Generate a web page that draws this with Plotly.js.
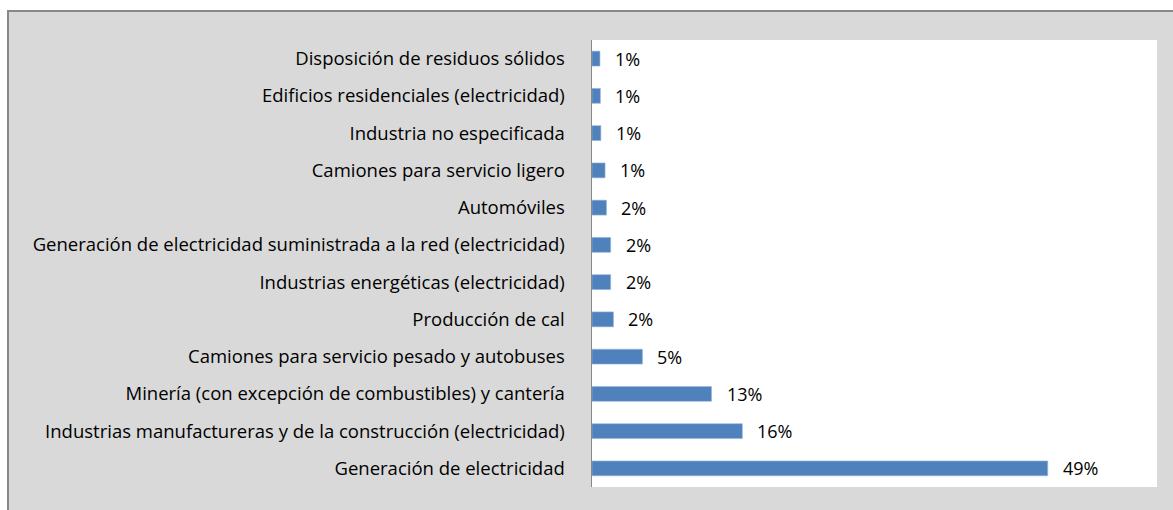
<!DOCTYPE html>
<html>
<head>
<meta charset="utf-8">
<script src="https://cdn.plot.ly/plotly-3.0.1.min.js"></script>
<style>
  html, body { margin: 0; padding: 0; background: #fff; }
  #box {
    position: absolute; left: 7px; top: 10px; width: 1180px; height: 520px;
    background: #d9d9d9; border-left: 2px solid #888; border-top: 2px solid #888;
  }
  #plot { position: absolute; left: 0; top: 0; width: 1173px; height: 510px; }
</style>
</head>
<body>
<div id="box"></div>
<div id="plot"></div>
<script>
// categories, bottom to top
var sources = [
  "Generación de electricidad",
  "Industrias manufactureras y de la construcción (electricidad)",
  "Minería (con excepción de combustibles) y cantería",
  "Camiones para servicio pesado y autobuses",
  "Producción de cal",
  "Industrias energéticas (electricidad)",
  "Generación de electricidad suministrada a la red (electricidad)",
  "Automóviles",
  "Camiones para servicio ligero",
  "Industria no especificada",
  "Edificios residenciales (electricidad)",
  "Disposición de residuos sólidos"
];
// share of emissions, %
var shares = [48.8, 16.1, 12.8, 5.4, 2.3, 2.0, 2.0, 1.55, 1.4, 0.95, 0.9, 0.85];
var shareLabels = ["49%", "16%", "13%", "5%", "2%", "2%", "2%", "2%", "1%", "1%", "1%", "1%"];

var fontFamily = "'Open Sans', sans-serif";

var trace = {
  type: "bar",
  orientation: "h",
  x: shares,
  y: sources,
  marker: { color: "#4f81bd", line: { color: "#9bb7d9", width: 0.6 } },
  hoverinfo: "skip"
};

// value labels next to each bar
var labels = sources.map(function (s, i) {
  return {
    x: shares[i], y: s, text: shareLabels[i],
    xanchor: "left", yanchor: "middle", xshift: 13,
    showarrow: false,
    font: { family: fontFamily, size: 18, color: "#000" }
  };
});

var layout = {
  width: 1173,
  height: 510,
  paper_bgcolor: "rgba(0,0,0,0)",
  plot_bgcolor: "#fff",
  margin: { l: 592, r: 16, t: 40, b: 23 },
  bargap: 0.6,
  showlegend: false,
  font: { family: fontFamily, size: 18.5, color: "#000" },
  xaxis: {
    range: [0, 60.5],
    visible: false,
    fixedrange: true
  },
  yaxis: {
    showline: true,
    linecolor: "#888",
    linewidth: 1.5,
    ticks: "",
    ticklabelstandoff: 22,
    showgrid: false,
    fixedrange: true
  },
  annotations: labels
};

Plotly.newPlot("plot", [trace], layout, { displayModeBar: false, staticPlot: true });
</script>
</body>
</html>
